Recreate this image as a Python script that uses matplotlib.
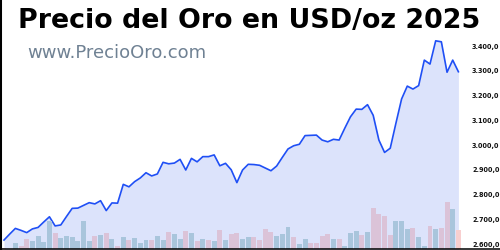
import numpy as np
import matplotlib
matplotlib.use('Agg')
import matplotlib.pyplot as plt

# Precio de cierre (USD/oz), una sesion por punto
prices = [2616, 2640, 2663, 2655, 2646, 2661, 2667, 2689, 2710, 2673,
          2677, 2711, 2744, 2745, 2756, 2767, 2762, 2775, 2735, 2766,
          2765, 2841, 2831, 2852, 2867, 2888, 2875, 2883, 2930, 2924,
          2927, 2942, 2899, 2946, 2932, 2953, 2953, 2960, 2916, 2926,
          2900, 2848, 2899, 2922, 2921, 2918, 2907, 2896, 2915, 2950,
          2984, 2997, 3003, 3038, 3039, 3040, 3020, 3013, 3023, 3020,
          3068, 3114, 3145, 3144, 3163, 3120, 3020, 2970, 2987, 3088,
          3186, 3238, 3226, 3240, 3343, 3327, 3421, 3417, 3294, 3343,
          3296]

# Volumen relativo por sesion
volume = [1, 0, 6, 3, 10, 8, 13.5, 7, 28, 16,
          11, 13, 12.5, 7.7, 28, 8, 13.5, 14, 16, 10,
          3.5, 12, 9, 10.7, 6.3, 9, 9, 13, 9, 17,
          15, 10, 18, 16, 8, 10.5, 9, 8, 19, 9,
          15, 16, 10.5, 12, 12, 9, 20, 17, 13, 15,
          22, 12, 5, 10, 6, 6, 13, 15, 10, 10,
          3, 16, 18, 14, 17, 41, 35, 33, 14, 28,
          28, 20, 21, 12, 3, 23, 20, 21, 47, 40,
          19]

# sesion alcista (u) o bajista (d)
session = ['d', 'd', 'u', 'd', 'd', 'u', 'u', 'u', 'u', 'd',
           'u', 'u', 'u', 'u', 'u', 'u', 'd', 'u', 'd', 'u',
           'd', 'u', 'd', 'u', 'u', 'u', 'd', 'u', 'u', 'd',
           'u', 'u', 'd', 'u', 'd', 'u', 'd', 'u', 'd', 'u',
           'd', 'd', 'u', 'u', 'd', 'd', 'd', 'd', 'u', 'u',
           'u', 'd', 'u', 'u', 'd', 'd', 'd', 'd', 'u', 'd',
           'u', 'u', 'u', 'd', 'u', 'd', 'd', 'd', 'd', 'u',
           'u', 'u', 'd', 'u', 'u', 'd', 'u', 'd', 'd', 'u',
           'd']

price_ticks = [2600, 2700, 2800, 2900, 3000, 3100, 3200, 3300, 3400]
tick_labels = ['2.600,0', '2.700,0', '2.800,0', '2.900,0', '3.000,0',
               '3.100,0', '3.200,0', '3.300,0', '3.400,0']

x = np.arange(len(prices))
bar_colors = ['#a9c5dc' if s == 'u' else '#dbc3d8' for s in session]
bar_colors[-1] = '#f8cfcf'  # sesion en curso

fig = plt.figure(figsize=(5, 2.5), dpi=100)
ax = fig.add_axes([0, 1 / 250, 1, 249 / 250])
ax2 = ax.twinx()  # volumen sobre el area

ax.fill_between(x, prices, 2500, color='#dce3fb', lw=0)
ax.plot(x, prices, color='#1f4ff5', lw=1.2)
ax.set_xlim(-4 / 5.68, 496 / 5.68)
ax.set_ylim(2579.8, 3585.9)
ax.set_xticks([])
ax.yaxis.tick_right()
ax.set_yticks(price_ticks)
ax.set_yticklabels(tick_labels)
ax.tick_params(axis='y', length=0, pad=-20.2, labelsize=4.7, labelcolor='#111111')
for lbl in ax.get_yticklabels():
    lbl.set_fontweight('semibold')
for s in ax.spines.values():
    s.set_visible(False)

ax2.bar(x, volume, width=0.88, color=bar_colors, lw=0)
ax2.set_ylim(0, 249)
ax2.set_yticks([])
ax2.spines['top'].set_visible(False)
ax2.spines['right'].set_visible(False)
ax2.spines['left'].set_linewidth(2.2)
ax2.spines['bottom'].set_linewidth(1.1)

fig.text(18 / 500, 1 - 28.5 / 250, 'Precio del Oro en USD/oz 2025',
         fontsize=19.4, fontweight='bold', family='DejaVu Sans', va='baseline')
fig.text(27 / 500, 1 - 58.5 / 250, 'www.PrecioOro.com',
         fontsize=13, color='#6f8193', va='baseline')

fig.savefig('out.png', dpi=100)
